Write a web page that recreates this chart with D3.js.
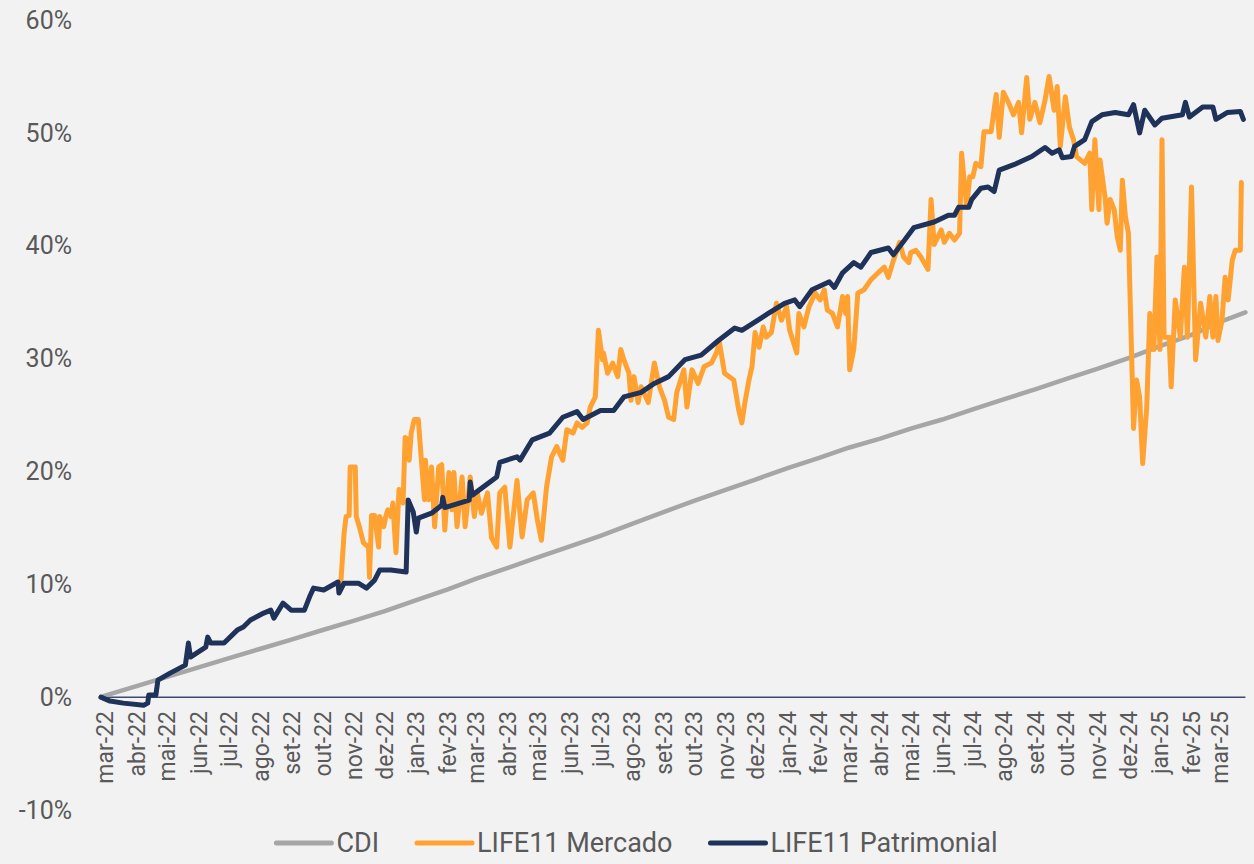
<!DOCTYPE html>
<html>
<head>
<meta charset="utf-8">
<script src="https://cdn.jsdelivr.net/npm/d3@7"></script>
<style>
  body { margin: 0; background: #f2f2f2; }
  svg { display: block; }
  text { font-family: "Liberation Sans Narrow", Roboto, sans-serif; fill: #595959; }
</style>
</head>
<body>
<svg id="chart" width="1254" height="864"></svg>
<script>
const width = 1254,
    height = 864

// x axis month labels (mar-22 .. mar-25)
const monthLabels = ['mar-22','abr-22','mai-22','jun-22','jul-22','ago-22','set-22','out-22','nov-22','dez-22',
    'jan-23','fev-23','mar-23','abr-23','mai-23','jun-23','jul-23','ago-23','set-23','out-23','nov-23','dez-23',
    'jan-24','fev-24','mar-24','abr-24','mai-24','jun-24','jul-24','ago-24','set-24','out-24','nov-24','dez-24',
    'jan-25','fev-25','mar-25']
const yTicks = [-10, 0, 10, 20, 30, 40, 50, 60]
const seriesNames = ['CDI', 'LIFE11 Mercado', 'LIFE11 Patrimonial']
const seriesColors = ['#a6a6a6', '#ffa232', '#1f3259']

// accumulated return, %
const cdi = [
    ['2022-02-25', 0], ['2022-03-01', 0.13], ['2022-04-01', 0.97], ['2022-05-01', 1.8], ['2022-06-01', 2.63],
    ['2022-07-01', 3.46], ['2022-08-01', 4.29], ['2022-09-01', 5.12], ['2022-10-01', 5.95], ['2022-11-01', 6.78],
    ['2022-12-01', 7.62], ['2023-01-01', 8.59], ['2023-02-01', 9.55], ['2023-03-01', 10.5], ['2023-04-01', 11.45],
    ['2023-05-01', 12.4], ['2023-06-01', 13.35], ['2023-07-01', 14.3], ['2023-08-01', 15.35], ['2023-09-01', 16.4],
    ['2023-10-01', 17.4], ['2023-11-01', 18.36], ['2023-12-01', 19.3], ['2024-01-01', 20.3], ['2024-02-01', 21.2],
    ['2024-03-01', 22.1], ['2024-04-01', 22.9], ['2024-05-01', 23.8], ['2024-06-01', 24.6], ['2024-07-01', 25.5],
    ['2024-08-01', 26.4], ['2024-09-01', 27.3], ['2024-10-01', 28.2], ['2024-11-01', 29.1], ['2024-12-01', 30.05],
    ['2025-01-01', 31.1], ['2025-02-01', 32.1], ['2025-03-01', 33.25], ['2025-03-26', 34.1]
]

const mercado = [
    ['2022-10-17', 9.3], ['2022-10-19', 10.4], ['2022-10-22', 14.5], ['2022-10-24', 16.0], ['2022-10-27', 16.1], ['2022-10-28', 20.4],
    ['2022-11-02', 20.4], ['2022-11-03', 16.0], ['2022-11-06', 15.1], ['2022-11-10', 13.7], ['2022-11-15', 13.3], ['2022-11-16', 10.6],
    ['2022-11-18', 16.1], ['2022-11-21', 16.1], ['2022-11-25', 13.3], ['2022-11-26', 16.0], ['2022-11-30', 15.1],
    ['2022-12-02', 16.0], ['2022-12-04', 16.6], ['2022-12-07', 16.0], ['2022-12-09', 17.2], ['2022-12-12', 12.8], ['2022-12-15', 18.4],
    ['2022-12-19', 17.2], ['2022-12-21', 23.0], ['2022-12-24', 22.8], ['2022-12-25', 21.0], ['2022-12-27', 23.4], ['2022-12-30', 24.6],
    ['2023-01-03', 24.6], ['2023-01-06', 21.0], ['2023-01-09', 17.5], ['2023-01-10', 21.0], ['2023-01-13', 17.5], ['2023-01-16', 20.4],
    ['2023-01-19', 15.1], ['2023-01-23', 20.4], ['2023-01-26', 20.6], ['2023-01-29', 14.8],
    ['2023-02-02', 19.9], ['2023-02-05', 16.6], ['2023-02-07', 19.9], ['2023-02-10', 15.1], ['2023-02-15', 19.5], ['2023-02-18', 15.1],
    ['2023-02-23', 19.5], ['2023-02-27', 16.0],
    ['2023-03-02', 18.1], ['2023-03-06', 16.3], ['2023-03-12', 18.1], ['2023-03-16', 14.1], ['2023-03-21', 13.3], ['2023-03-24', 18.1],
    ['2023-03-29', 18.6], ['2023-04-03', 13.3], ['2023-04-10', 19.2], ['2023-04-15', 14.2], ['2023-04-20', 17.5], ['2023-04-26', 18.1],
    ['2023-04-30', 15.7], ['2023-05-04', 13.9], ['2023-05-09', 18.6], ['2023-05-14', 21.3], ['2023-05-19', 22.2], ['2023-05-25', 21.0],
    ['2023-05-29', 23.7], ['2023-06-04', 23.4], ['2023-06-08', 24.3], ['2023-06-13', 23.9], ['2023-06-18', 24.3], ['2023-06-21', 25.7],
    ['2023-06-26', 26.6], ['2023-06-29', 32.5], ['2023-07-03', 29.9], ['2023-07-04', 30.5], ['2023-07-08', 28.7], ['2023-07-13', 29.6],
    ['2023-07-18', 28.4], ['2023-07-21', 30.8], ['2023-07-24', 29.9], ['2023-07-29', 28.7], ['2023-07-31', 26.3], ['2023-08-03', 28.4],
    ['2023-08-07', 26.1], ['2023-08-10', 27.5], ['2023-08-17', 26.1], ['2023-08-23', 29.6], ['2023-08-28', 27.5], ['2023-09-02', 26.3],
    ['2023-09-06', 24.8], ['2023-09-11', 24.6], ['2023-09-14', 27.0], ['2023-09-21', 29.0], ['2023-09-24', 25.7], ['2023-09-29', 29.0],
    ['2023-10-05', 27.8], ['2023-10-11', 29.3], ['2023-10-18', 29.6], ['2023-10-23', 30.5], ['2023-10-26', 31.4], ['2023-10-31', 28.7],
    ['2023-11-09', 28.1], ['2023-11-14', 25.4], ['2023-11-17', 24.3], ['2023-11-20', 26.1], ['2023-11-24', 28.1], ['2023-11-27', 29.3],
    ['2023-11-30', 32.3], ['2023-12-04', 31.0], ['2023-12-08', 32.8], ['2023-12-11', 31.9], ['2023-12-16', 32.3], ['2023-12-21', 34.9],
    ['2023-12-26', 33.4], ['2023-12-31', 34.6], ['2024-01-03', 32.5], ['2024-01-10', 30.5], ['2024-01-12', 34.0], ['2024-01-17', 32.8],
    ['2024-01-22', 34.6], ['2024-01-28', 35.8], ['2024-02-02', 35.2], ['2024-02-06', 36.1], ['2024-02-09', 34.3], ['2024-02-14', 34.0],
    ['2024-02-19', 32.8], ['2024-02-24', 35.5], ['2024-02-27', 34.0], ['2024-02-29', 35.5], ['2024-03-02', 29.0], ['2024-03-06', 30.8],
    ['2024-03-10', 35.8], ['2024-03-16', 36.1], ['2024-03-23', 37.0], ['2024-03-30', 37.6], ['2024-04-05', 38.1], ['2024-04-09', 37.2],
    ['2024-04-14', 38.7], ['2024-04-20', 40.3], ['2024-04-24', 39.0], ['2024-04-29', 38.5], ['2024-05-01', 39.4], ['2024-05-06', 39.6],
    ['2024-05-11', 39.0], ['2024-05-18', 37.9], ['2024-05-21', 44.1], ['2024-05-24', 40.1], ['2024-05-31', 41.4], ['2024-06-03', 40.3],
    ['2024-06-08', 41.1], ['2024-06-13', 40.5], ['2024-06-18', 41.1], ['2024-06-20', 48.2], ['2024-06-25', 43.4], ['2024-06-28', 46.1],
    ['2024-07-01', 46.1], ['2024-07-04', 47.3], ['2024-07-09', 47.0], ['2024-07-12', 50.1], ['2024-07-19', 50.1], ['2024-07-24', 53.4],
    ['2024-07-27', 49.6], ['2024-07-31', 53.6], ['2024-08-05', 52.7], ['2024-08-10', 51.6], ['2024-08-15', 52.7], ['2024-08-18', 50.0],
    ['2024-08-23', 54.9], ['2024-08-26', 51.2], ['2024-08-31', 52.7], ['2024-09-05', 50.9], ['2024-09-10', 52.9], ['2024-09-14', 55.0],
    ['2024-09-19', 52.0], ['2024-09-22', 54.1], ['2024-09-25', 48.8], ['2024-09-30', 53.2], ['2024-10-04', 50.5], ['2024-10-08', 49.4],
    ['2024-10-11', 47.9], ['2024-10-19', 47.3], ['2024-10-24', 48.2], ['2024-10-26', 43.2], ['2024-10-29', 49.4], ['2024-11-02', 43.2],
    ['2024-11-03', 47.6], ['2024-11-08', 44.3], ['2024-11-10', 42.0], ['2024-11-13', 44.1], ['2024-11-17', 43.2], ['2024-11-20', 40.8],
    ['2024-11-23', 39.6], ['2024-11-25', 45.8], ['2024-11-28', 42.6], ['2024-12-01', 41.1], ['2024-12-04', 30.8], ['2024-12-06', 23.8],
    ['2024-12-09', 28.1], ['2024-12-12', 26.6], ['2024-12-15', 20.7], ['2024-12-19', 25.7], ['2024-12-22', 34.0], ['2024-12-26', 30.8],
    ['2024-12-29', 39.0], ['2025-01-01', 30.8], ['2025-01-03', 49.4], ['2025-01-05', 31.9], ['2025-01-10', 31.9], ['2025-01-12', 27.5],
    ['2025-01-16', 35.2], ['2025-01-21', 31.9], ['2025-01-25', 38.1], ['2025-01-28', 31.9], ['2025-02-01', 45.2], ['2025-02-05', 29.9],
    ['2025-02-10', 34.9], ['2025-02-15', 31.9], ['2025-02-19', 35.5], ['2025-02-22', 31.9], ['2025-02-25', 35.5], ['2025-02-27', 31.6],
    ['2025-03-03', 33.4], ['2025-03-06', 37.2], ['2025-03-09', 35.2], ['2025-03-13', 38.7], ['2025-03-16', 39.6], ['2025-03-21', 39.6],
    ['2025-03-22', 45.6]
]

const patrimonial = [
    ['2022-02-25', 0], ['2022-03-06', -0.35], ['2022-03-19', -0.53], ['2022-04-08', -0.71], ['2022-04-12', -0.53], ['2022-04-13', 0.18],
    ['2022-04-20', 0.18], ['2022-04-22', 1.5], ['2022-05-04', 2.13], ['2022-05-19', 2.84], ['2022-05-22', 4.79], ['2022-05-24', 3.55],
    ['2022-06-08', 4.43], ['2022-06-10', 5.32], ['2022-06-13', 4.79], ['2022-06-26', 4.79], ['2022-07-09', 5.94], ['2022-07-15', 6.21],
    ['2022-07-22', 6.83], ['2022-08-04', 7.45], ['2022-08-11', 7.71], ['2022-08-14', 7.0], ['2022-08-23', 8.33], ['2022-08-31', 7.71],
    ['2022-09-13', 7.71], ['2022-09-18', 8.87], ['2022-09-22', 9.66], ['2022-10-02', 9.49], ['2022-10-16', 10.2], ['2022-10-17', 9.22],
    ['2022-10-22', 10.1], ['2022-11-05', 10.1], ['2022-11-13', 9.66], ['2022-11-21', 10.37], ['2022-11-26', 11.26], ['2022-12-07', 11.26],
    ['2022-12-22', 11.08], ['2022-12-24', 17.46], ['2022-12-29', 16.4], ['2023-01-01', 14.63], ['2023-01-03', 15.87], ['2023-01-16', 16.3],
    ['2023-01-26', 17.0], ['2023-01-27', 17.7], ['2023-01-29', 16.8], ['2023-02-22', 17.46], ['2023-02-23', 19.06], ['2023-02-25', 17.9],
    ['2023-03-21', 19.5], ['2023-03-24', 20.8], ['2023-04-10', 21.3], ['2023-04-13', 21.0], ['2023-04-25', 22.8], ['2023-05-12', 23.4],
    ['2023-05-25', 24.8], ['2023-06-08', 25.3], ['2023-06-14', 24.6], ['2023-07-01', 25.4], ['2023-07-14', 25.4], ['2023-07-24', 26.6],
    ['2023-08-10', 27.0], ['2023-08-23', 27.8], ['2023-09-06', 28.4], ['2023-09-22', 29.9], ['2023-10-08', 30.3], ['2023-10-25', 31.6],
    ['2023-11-10', 32.7], ['2023-11-17', 32.5], ['2023-12-13', 34.0], ['2023-12-29', 34.9], ['2024-01-08', 35.2], ['2024-01-13', 34.6],
    ['2024-01-25', 36.1], ['2024-02-11', 36.8], ['2024-02-16', 36.3], ['2024-02-24', 37.6], ['2024-03-06', 38.5], ['2024-03-13', 38.1],
    ['2024-03-23', 39.4], ['2024-04-09', 39.8], ['2024-04-14', 39.2], ['2024-04-25', 40.5], ['2024-05-04', 41.6], ['2024-05-24', 42.1],
    ['2024-06-07', 42.7], ['2024-06-13', 42.7], ['2024-06-17', 43.4], ['2024-06-27', 43.4], ['2024-06-30', 44.1], ['2024-07-09', 45.1],
    ['2024-07-16', 45.2], ['2024-07-22', 44.8], ['2024-07-27', 46.7], ['2024-08-11', 47.2], ['2024-08-28', 47.9], ['2024-09-10', 48.7],
    ['2024-09-17', 48.2], ['2024-09-24', 48.5], ['2024-09-27', 47.8], ['2024-10-06', 47.9], ['2024-10-09', 48.8], ['2024-10-19', 49.4],
    ['2024-10-26', 51.0], ['2024-11-05', 51.6], ['2024-11-18', 51.8], ['2024-12-01', 51.6], ['2024-12-06', 52.5], ['2024-12-12', 50.0],
    ['2024-12-17', 52.0], ['2024-12-27', 50.7], ['2025-01-03', 51.3], ['2025-01-23', 51.6], ['2025-01-26', 52.7], ['2025-01-30', 51.4],
    ['2025-02-12', 52.3], ['2025-02-22', 52.3], ['2025-02-25', 51.2], ['2025-03-08', 51.8], ['2025-03-21', 51.9], ['2025-03-24', 51.2]
]

const parseDate = d3.timeParse('%Y-%m-%d')
const toPoints = arr => arr.map(d => ({date: parseDate(d[0]), value: d[1]}))
const series = [cdi, mercado, patrimonial].map((arr, i) => ({
    name: seriesNames[i],
    color: seriesColors[i],
    points: toPoints(arr)
}))

const svg = d3.select('#chart')
svg.append('rect').attr('width', width).attr('height', height).attr('fill', '#f2f2f2')

const firstMonth = new Date(2022, 2, 1),
    lastMonth = new Date(2025, 2, 1)
const x = d3.scaleTime()
    .domain([firstMonth, lastMonth])
    .range([105, 1220])
const y = d3.scaleLinear()
    .domain([-10, 60])
    .range([810, 20])

// y labels
svg.append('g')
    .selectAll('text')
    .data(yTicks)
    .join('text')
    .attr('x', 72)
    .attr('y', d => y(d))
    .attr('dy', '0.35em')
    .attr('text-anchor', 'end')
    .style('font-size', '25px')
    .text(d => d + '%')

// zero line
svg.append('line')
    .attr('x1', x(parseDate('2022-02-25')))
    .attr('x2', x(parseDate('2025-03-26')))
    .attr('y1', y(0))
    .attr('y2', y(0))
    .attr('stroke', '#3b4a6e')
    .attr('stroke-width', 1.5)

// x labels, one per month
const months = d3.timeMonth.range(firstMonth, d3.timeMonth.offset(lastMonth, 1))
svg.append('g')
    .selectAll('text')
    .data(months)
    .join('text')
    .attr('transform', d => `translate(${x(d)},711) rotate(-90)`)
    .attr('dy', '0.35em')
    .attr('text-anchor', 'end')
    .style('font-size', '23px')
    .text((d, i) => monthLabels[i])

const line = d3.line()
    .x(d => x(d.date))
    .y(d => y(d.value))

svg.append('g')
    .selectAll('path')
    .data(series)
    .join('path')
    .attr('d', d => line(d.points))
    .attr('fill', 'none')
    .attr('stroke', d => d.color)
    .attr('stroke-width', (d, i) => i == 0 ? 4.5 : 5)
    .attr('stroke-linejoin', 'round')
    .attr('stroke-linecap', 'round')

// legend, centred under the chart
const legend = svg.append('g')
let lx = 0
series.forEach((s, i) => {
    const item = legend.append('g').attr('transform', `translate(${lx},0)`)
    item.append('line')
        .attr('x1', 0).attr('x2', 55)
        .attr('y1', 0).attr('y2', 0)
        .attr('stroke', s.color)
        .attr('stroke-width', 5)
        .attr('stroke-linecap', 'round')
    const t = item.append('text')
        .attr('x', 60)
        .attr('dy', '0.35em')
        .style('font-size', '27px')
        .text(s.name)
    lx += 60 + t.node().getComputedTextLength() + 38
})
const legendWidth = lx - 38
legend.attr('transform', `translate(${637 - legendWidth / 2},843)`)
</script>
</body>
</html>
